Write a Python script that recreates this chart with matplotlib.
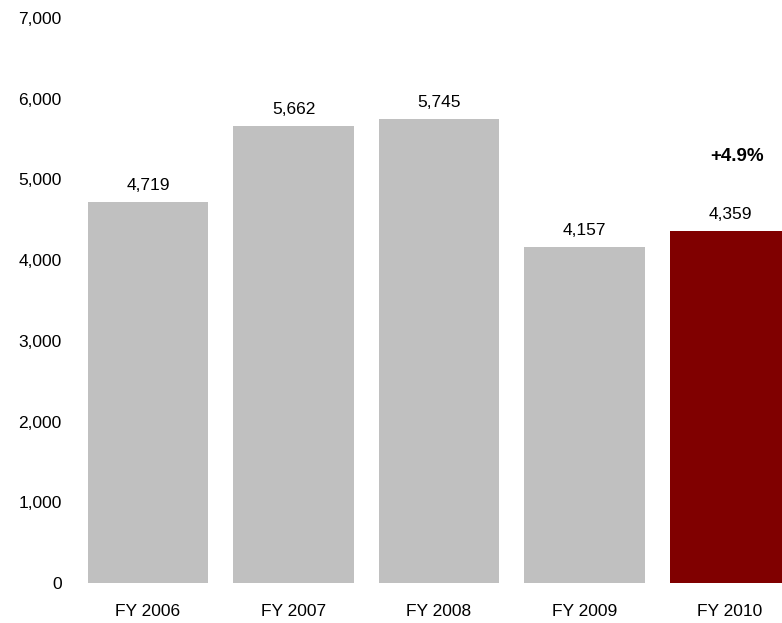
import matplotlib.pyplot as plt

# Revenue by fiscal year
years = ["FY 2006", "FY 2007", "FY 2008", "FY 2009", "FY 2010"]
values = [4719, 5662, 5745, 4157, 4359]
y_ticks = [0, 1000, 2000, 3000, 4000, 5000, 6000, 7000]

plt.rcParams["font.family"] = ["Liberation Sans", "DejaVu Sans"]

fig = plt.figure(figsize=(7.82, 6.23), dpi=100)
W, H = 782, 623
ax = fig.add_axes([70 / W, 40 / H, (W - 70) / W, 565 / H])

x = list(range(len(years)))
colors = ["#c0c0c0"] * (len(years) - 1) + ["#800000"]
bars = ax.bar(x, values, width=0.83, color=colors)

# value labels above each bar
for xi, v in zip(x, values):
    ax.annotate(f"{v:,}", (xi, v), xytext=(0, 6.5), textcoords="offset points",
                ha="center", va="bottom", fontsize=12.5)

# year-over-year growth for the latest year
growth = (values[-1] / values[-2] - 1) * 100
ax.annotate(f"+{growth:.1f}%", (x[-1], values[-1]), xytext=(5, 54),
            textcoords="offset points", ha="center", va="center",
            fontsize=13.5, fontweight="bold")

ax.set_xlim(-0.536, 4.357)
ax.set_ylim(0, 7000)
ax.set_xticks(x)
ax.set_xticklabels(years)
ax.set_yticks(y_ticks)
ax.set_yticklabels([f"{t:,}" for t in y_ticks])
ax.tick_params(axis="both", length=0, labelsize=12.5)
ax.tick_params(axis="x", pad=15)
ax.tick_params(axis="y", pad=6)
for s in ax.spines.values():
    s.set_visible(False)

fig.savefig("out.png", dpi=100)
